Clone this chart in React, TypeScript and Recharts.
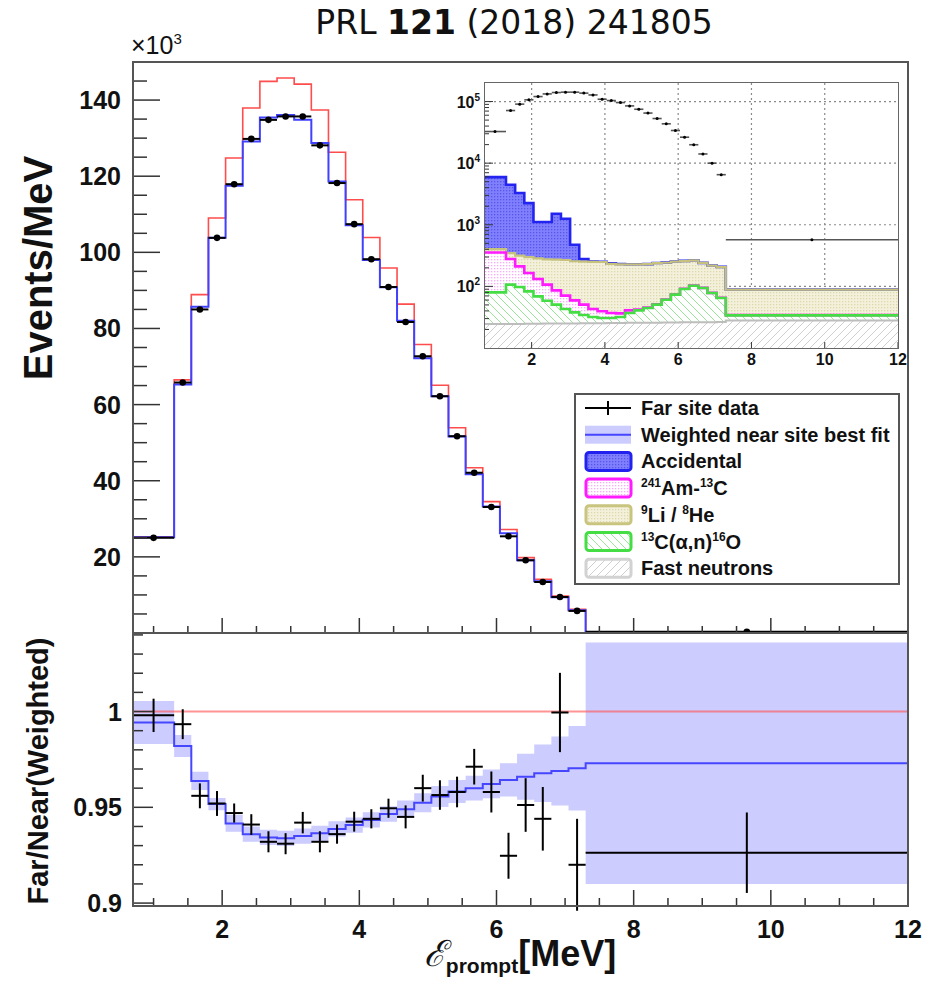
import React from 'react';
import { ComposedChart, Line, Area, Scatter, ErrorBar, XAxis, YAxis, ReferenceLine, CartesianGrid } from 'recharts';

// bin edges of the prompt energy spectrum, MeV
const binEdges = [0.7, 1.3, 1.55, 1.8, 2.05, 2.3, 2.55, 2.8, 3.05, 3.3, 3.55, 3.8, 4.05, 4.3, 4.55, 4.8, 5.05, 5.3, 5.55, 5.8, 6.05, 6.3, 6.55, 6.8, 7.05, 7.3, 12];

// upper panel, x10^3 events/MeV
const farData = [25.0, 65.8, 85.0, 103.8, 117.9, 129.8, 134.8, 135.7, 135.7, 128.1, 118.2, 107.4, 98.2, 90.9, 81.7, 72.7, 62.2, 51.7, 42.1, 33.1, 25.4, 19.1, 13.4, 9.45, 5.8, 0.3];
const nearWeightedFit = [25.15, 65.3, 85.7, 103.8, 117.5, 129.1, 135.4, 136.1, 134.8, 128.7, 118.6, 107.1, 98.0, 90.8, 82.0, 72.2, 62.2, 51.6, 41.7, 33.2, 26.2, 19.1, 13.6, 9.4, 6.0, 0.29];
const noOscillation = [25.3, 66.5, 88.9, 109.0, 124.8, 137.9, 144.9, 145.8, 144.2, 137.4, 126.3, 113.8, 103.9, 95.9, 86.4, 75.8, 65.1, 53.9, 43.4, 34.5, 27.2, 19.8, 14.1, 9.7, 6.2, 0.3];

// lower panel, far / near (weighted)
const ratioData = [0.998, 0.9934, 0.956, 0.952, 0.947, 0.941, 0.932, 0.931, 0.942, 0.932, 0.936, 0.9425, 0.944, 0.9495, 0.945, 0.96, 0.9564, 0.958, 0.9712, 0.958, 0.9247, 0.9512, 0.944, 0.9995, 0.92, 0.9263];
const ratioErr = [0.0087, 0.0078, 0.0065, 0.0065, 0.005, 0.0054, 0.0055, 0.0055, 0.0056, 0.0055, 0.005, 0.0052, 0.005, 0.005, 0.006, 0.007, 0.0077, 0.008, 0.0093, 0.0107, 0.012, 0.014, 0.0166, 0.0207, 0.024, 0.021];
const fitRatio = [0.9943, 0.982, 0.9638, 0.9517, 0.9416, 0.936, 0.9343, 0.9338, 0.935, 0.9364, 0.9387, 0.9407, 0.9434, 0.9465, 0.949, 0.9524, 0.9556, 0.9582, 0.96, 0.9622, 0.9643, 0.966, 0.9678, 0.969, 0.9704, 0.973];
const fitBand = [0.0112, 0.0057, 0.0048, 0.0032, 0.0044, 0.004, 0.004, 0.004, 0.004, 0.004, 0.004, 0.004, 0.004, 0.004, 0.0045, 0.005, 0.0055, 0.006, 0.0065, 0.0075, 0.0087, 0.012, 0.015, 0.018, 0.022, 0.063];

// inset (log scale), events/MeV; background levels are the stacked tops
const insetFar = [32600, 71500, 90800, 106600, 120500, 133000, 140000, 142000, 142000, 137000, 128000, 109000, 103800, 96300, 85000, 75000, 65000, 53000, 43500, 33900, 26400, 19900, 14100, 10000, 6500, 570];
const fastNeutronTop = [24.5, 24.6, 24.6, 24.7, 24.8, 24.9, 25.0, 25.0, 25.1, 25.2, 25.3, 25.3, 25.4, 25.5, 25.6, 25.7, 25.7, 25.8, 25.9, 26.0, 26.1, 26.2, 26.2, 26.3, 26.4, 28.0];
const alphaNTop = [80, 107, 97.7, 83, 68.9, 58.6, 50.5, 43, 37.9, 34.4, 31.9, 30.7, 30.7, 31.9, 37, 40.8, 44.7, 50.5, 60.8, 73.4, 90.8, 102.6, 94.2, 78.2, 64.9, 33.9];
const amcTop = [355, 278, 211, 165, 132, 107, 86, 70.7, 59.3, 50.5, 43, 39.4, 37, 36.5, 40.8, 42, 45.5, 51.2, 61.4, 74, 91.4, 103.2, 94.7, 78.6, 65.3, 34.2];
const liHeTop = [404, 347, 315, 299, 285, 275, 271, 268, 256, 252, 250, 249, 232, 228, 227, 228, 229, 238, 242, 252, 258, 264, 240, 217, 206, 88.5];
const accidentalTop = [5940, 4460, 3270, 2250, 1107, 1107, 1510, 1253, 474, 278, 252, 251, 236, 231, 229, 229, 230, 239, 243, 253, 259, 265, 241, 218, 207, 89];

// ticks
const mainYTicks = [5, 10, 15, 20, 25, 30, 35, 40, 45, 50, 55, 60, 65, 70, 75, 80, 85, 90, 95, 100, 105, 110, 115, 120, 125, 130, 135, 140, 145];
const energyTicks = [1, 1.5, 2, 2.5, 3, 3.5, 4, 4.5, 5, 5.5, 6, 6.5, 7, 7.5, 8, 8.5, 9, 9.5, 10, 10.5, 11, 11.5, 12];
const ratioYTicks = [0.9, 0.91, 0.92, 0.93, 0.94, 0.95, 0.96, 0.97, 0.98, 0.99, 1, 1.01, 1.02, 1.03, 1.04];
const insetYTicks = [20, 30, 40, 50, 60, 70, 80, 90, 100, 200, 300, 400, 500, 600, 700, 800, 900, 1000, 2000, 3000, 4000, 5000, 6000, 7000, 8000, 9000, 10000, 20000, 30000, 40000, 50000, 60000, 70000, 80000, 90000, 100000];
const insetXTicks = [2, 4, 6, 8, 10, 12];
const insetGridX = [2, 4, 6, 8, 10];
const insetGridY = [100, 1000, 10000, 100000];
const insetDecadeLabels: Record<number, string> = { 100: '2', 1000: '3', 10000: '4', 100000: '5' };

const FONT = '"Liberation Sans", Arial, Helvetica, sans-serif';
const AXIS = '#333';
const nBins = binEdges.length - 1;

const mainRows = binEdges.map((x, i) => {
  const b = Math.min(i, nBins - 1);
  return { x, pred: noOscillation[b], fit: nearWeightedFit[b] };
});
const mainPoints = farData.map((y, i) => ({ x: (binEdges[i] + binEdges[i + 1]) / 2, xe: (binEdges[i + 1] - binEdges[i]) / 2, y }));

const ratioRows = binEdges.map((x, i) => {
  const b = Math.min(i, nBins - 1);
  return { x, fit: fitRatio[b], lo: fitRatio[b] - fitBand[b], hi: fitRatio[b] + fitBand[b] };
});
const ratioPoints = ratioData.map((y, i) => ({ x: (binEdges[i] + binEdges[i + 1]) / 2, xe: (binEdges[i + 1] - binEdges[i]) / 2, y, ye: ratioErr[i] }));

const insetRows = binEdges.map((x, i) => {
  const b = Math.min(i, nBins - 1);
  return { x, fn: fastNeutronTop[b], an: alphaNTop[b], amc: amcTop[b], li: liHeTop[b], acc: accidentalTop[b] };
});
const insetPoints = insetFar.map((y, i) => ({ x: (binEdges[i] + binEdges[i + 1]) / 2, xe: (binEdges[i + 1] - binEdges[i]) / 2, y }));

function MainYTick(props: any) {
  const { x, y, payload } = props;
  const major = payload.value % 20 === 0;
  return (
    <g>
      <line x1={x} x2={x + (major ? 27 : 14)} y1={y} y2={y} stroke={AXIS} strokeWidth={1.5} />
      {major && (
        <text x={x - 12} y={y} dy={9} textAnchor="end" fontFamily={FONT} fontWeight="bold" fontSize={25} fill="#111">
          {payload.value}
        </text>
      )}
    </g>
  );
}

function RatioYTick(props: any) {
  const { x, y, payload } = props;
  const v = payload.value;
  const major = Math.round(v * 100) % 5 === 0;
  return (
    <g>
      <line x1={x} x2={x + (major ? 20 : 10)} y1={y} y2={y} stroke={AXIS} strokeWidth={1.5} />
      {major && (
        <text x={x - 11} y={y} dy={9} textAnchor="end" fontFamily={FONT} fontWeight="bold" fontSize={25} fill="#111">
          {v === 1 ? '1' : String(v)}
        </text>
      )}
    </g>
  );
}

function EnergyTick(props: any) {
  const { x, y, payload, labels } = props;
  const v = payload.value;
  const major = v % 2 === 0;
  return (
    <g>
      <line x1={x} x2={x} y1={y} y2={y - (major ? 15 : 7)} stroke={AXIS} strokeWidth={1.5} />
      {labels && major && (
        <text x={x} y={y + 33} textAnchor="middle" fontFamily={FONT} fontWeight="bold" fontSize={25} fill="#111">
          {v}
        </text>
      )}
    </g>
  );
}

function InsetYTick(props: any) {
  const { x, y, payload } = props;
  const exp = insetDecadeLabels[payload.value];
  return (
    <g>
      <line x1={x} x2={x + (exp ? 9 : 5)} y1={y} y2={y} stroke={AXIS} strokeWidth={1} />
      {exp && (
        <text x={x - 4} y={y} dy={6} textAnchor="end" fontFamily={FONT} fontWeight="bold" fontSize={16} fill="#111">
          10<tspan dy={-7} fontSize={10}>{exp}</tspan>
        </text>
      )}
    </g>
  );
}

function InsetXTick(props: any) {
  const { x, y, payload } = props;
  return (
    <g>
      <line x1={x} x2={x} y1={y} y2={y - 6} stroke={AXIS} strokeWidth={1} />
      <text x={x} y={y + 17} textAnchor="middle" fontFamily={FONT} fontWeight="bold" fontSize={16} fill="#111">
        {payload.value}
      </text>
    </g>
  );
}

const noShape = () => <g />;

function Patterns({ p }: { p: string }) {
  return (
    <defs>
      <pattern id={p + 'acc'} width="3" height="3" patternUnits="userSpaceOnUse">
        <rect width="3" height="3" fill="#8080ff" />
        <rect width="1.3" height="1.3" fill="#5656e8" />
      </pattern>
      <pattern id={p + 'amc'} width="3" height="3" patternUnits="userSpaceOnUse">
        <rect width="3" height="3" fill="#fff" />
        <rect width="1.3" height="1.3" fill="#ffa6ff" />
      </pattern>
      <pattern id={p + 'li'} width="3" height="3" patternUnits="userSpaceOnUse">
        <rect width="3" height="3" fill="#f3f1dc" />
        <rect width="1.3" height="1.3" fill="#dcd8aa" />
      </pattern>
      <pattern id={p + 'an'} width="8" height="8" patternUnits="userSpaceOnUse">
        <rect width="8" height="8" fill="#fff" />
        <path d="M0,0 L8,8 M-2,6 L2,10 M6,-2 L10,2" stroke="#9be69b" strokeWidth="1" />
      </pattern>
      <pattern id={p + 'fn'} width="8" height="8" patternUnits="userSpaceOnUse">
        <rect width="8" height="8" fill="#fff" />
        <path d="M0,8 L8,0 M-2,2 L2,-2 M6,10 L10,6" stroke="#cfcfcf" strokeWidth="1" />
      </pattern>
    </defs>
  );
}

function MainPanel() {
  return (
    <div style={{ position: 'absolute', left: 0, top: 0 }}>
      <ComposedChart width={940} height={660} data={mainRows} margin={{ top: 62, right: 32, bottom: 7, left: 0 }}>
        <XAxis dataKey="x" type="number" domain={[0.7, 12]} ticks={energyTicks} interval={0} tick={(p: any) => <EnergyTick {...p} labels={false} />} tickLine={false} axisLine={false} tickSize={0} tickMargin={0} height={20} allowDataOverflow />
        <YAxis type="number" domain={[0, 150]} ticks={mainYTicks} interval={0} tick={(p: any) => <MainYTick {...p} />} tickLine={false} axisLine={false} tickSize={0} tickMargin={0} width={133} allowDataOverflow />
        <Line type="stepAfter" dataKey="pred" stroke="#ff4c4c" strokeWidth={1.6} dot={false} activeDot={false} isAnimationActive={false} />
        <Line type="stepAfter" dataKey="fit" stroke="#4040ff" strokeWidth={2} dot={false} activeDot={false} isAnimationActive={false} />
        <Scatter data={mainPoints} dataKey="y" shape={(p: any) => <circle cx={p.cx} cy={p.cy} r={3.3} fill="#000" />} isAnimationActive={false}>
          <ErrorBar dataKey="xe" direction="x" width={0} stroke="#000" strokeWidth={2} />
        </Scatter>
      </ComposedChart>
    </div>
  );
}

function RatioPanel() {
  return (
    <div style={{ position: 'absolute', left: 0, top: 600 }}>
      <ComposedChart width={940} height={384} data={ratioRows} margin={{ top: 33, right: 32, bottom: 39, left: 0 }}>
        <XAxis dataKey="x" type="number" domain={[0.7, 12]} ticks={energyTicks} interval={0} tick={(p: any) => <EnergyTick {...p} labels />} tickLine={false} axisLine={false} tickSize={0} tickMargin={0} height={40} allowDataOverflow />
        <YAxis type="number" domain={[0.899, 1.041]} ticks={ratioYTicks} interval={0} tick={(p: any) => <RatioYTick {...p} />} tickLine={false} axisLine={false} tickSize={0} tickMargin={0} width={133} allowDataOverflow />
        <Area type="stepAfter" dataKey={(r: any) => [r.lo, r.hi]} fill="#ccccff" fillOpacity={1} stroke="none" dot={false} activeDot={false} isAnimationActive={false} />
        <ReferenceLine y={1} stroke="#ff5a5a" strokeOpacity={0.65} strokeWidth={2} />
        <Line type="stepAfter" dataKey="fit" stroke="#4646ff" strokeWidth={2} dot={false} activeDot={false} isAnimationActive={false} />
        <Scatter data={ratioPoints} dataKey="y" shape={noShape} isAnimationActive={false}>
          <ErrorBar dataKey="xe" direction="x" width={0} stroke="#000" strokeWidth={2} />
          <ErrorBar dataKey="ye" direction="y" width={0} stroke="#000" strokeWidth={2} />
        </Scatter>
      </ComposedChart>
    </div>
  );
}

function InsetPanel() {
  return (
    <div style={{ position: 'absolute', left: 440, top: 70 }}>
      <ComposedChart width={470} height={310} data={insetRows} margin={{ top: 13, right: 12, bottom: 7, left: 0 }}>
        <Patterns p="in-" />
        <CartesianGrid horizontalValues={insetGridY} verticalValues={insetGridX} stroke="#8a8a8a" strokeDasharray="2 3" strokeWidth={1.2} />
        <XAxis dataKey="x" type="number" domain={[0.7, 12]} ticks={insetXTicks} interval={0} tick={(p: any) => <InsetXTick {...p} />} tickLine={false} axisLine={false} tickSize={0} tickMargin={0} height={25} allowDataOverflow />
        <YAxis type="number" scale="log" domain={[10, 200000]} ticks={insetYTicks} interval={0} tick={(p: any) => <InsetYTick {...p} />} tickLine={false} axisLine={false} tickSize={0} tickMargin={0} width={44} allowDataOverflow />
        <Area type="stepAfter" dataKey={(r: any) => [10, r.fn]} fill="url(#in-fn)" fillOpacity={1} stroke="none" isAnimationActive={false} />
        <Area type="stepAfter" dataKey={(r: any) => [r.fn, r.an]} fill="url(#in-an)" fillOpacity={1} stroke="none" isAnimationActive={false} />
        <Area type="stepAfter" dataKey={(r: any) => [r.an, r.amc]} fill="url(#in-amc)" fillOpacity={1} stroke="none" isAnimationActive={false} />
        <Area type="stepAfter" dataKey={(r: any) => [r.amc, r.li]} fill="url(#in-li)" fillOpacity={1} stroke="none" isAnimationActive={false} />
        <Area type="stepAfter" dataKey={(r: any) => [r.li, r.acc]} fill="url(#in-acc)" fillOpacity={1} stroke="none" isAnimationActive={false} />
        <Line type="stepAfter" dataKey="acc" stroke="#2424f0" strokeWidth={2.6} dot={false} activeDot={false} isAnimationActive={false} />
        <Line type="stepAfter" dataKey="li" stroke="#c6c27c" strokeWidth={2.2} dot={false} activeDot={false} isAnimationActive={false} />
        <Line type="stepAfter" dataKey="amc" stroke="#ff1aff" strokeWidth={2.6} dot={false} activeDot={false} isAnimationActive={false} />
        <Line type="stepAfter" dataKey="an" stroke="#44dd44" strokeWidth={2.6} dot={false} activeDot={false} isAnimationActive={false} />
        <Line type="stepAfter" dataKey="fn" stroke="#bdbdbd" strokeWidth={2} dot={false} activeDot={false} isAnimationActive={false} />
        <Scatter data={insetPoints} dataKey="y" shape={(p: any) => <circle cx={p.cx} cy={p.cy} r={1.5} fill="#000" />} isAnimationActive={false}>
          <ErrorBar dataKey="xe" direction="x" width={0} stroke="#555" strokeWidth={1.6} />
        </Scatter>
      </ComposedChart>
    </div>
  );
}

const legendRows = [
  { key: 'data', label: ['Far site data'] },
  { key: 'fit', label: ['Weighted near site best fit'] },
  { key: 'acc', label: ['Accidental'] },
  { key: 'amc', label: ['^241', 'Am-', '^13', 'C'] },
  { key: 'li', label: ['^9', 'Li / ', '^8', 'He'] },
  { key: 'an', label: ['^13', 'C(\u03b1,n)', '^16', 'O'] },
  { key: 'fn', label: ['Fast neutrons'] },
];
const legendStroke: Record<string, string> = { acc: '#2222ee', amc: '#ff1aff', li: '#c9c47e', an: '#44dd44', fn: '#d2d2d2' };

function LegendBox() {
  return (
    <svg width={328} height={194} style={{ position: 'absolute', left: 573, top: 392 }}>
      <Patterns p="lg-" />
      <rect x={2} y={2} width={324} height={190} fill="#fff" stroke="#555" strokeWidth={2} />
      {legendRows.map((row, i) => {
        const cy = 16 + i * 26.7;
        let sym;
        if (row.key === 'data') {
          sym = (
            <g>
              <line x1={12} x2={58} y1={cy} y2={cy} stroke="#000" strokeWidth={2} />
              <line x1={35} x2={35} y1={cy - 7} y2={cy + 7} stroke="#000" strokeWidth={2} />
            </g>
          );
        } else if (row.key === 'fit') {
          sym = (
            <g>
              <rect x={12} y={cy - 9} width={46} height={18} fill="#ccccff" />
              <line x1={12} x2={58} y1={cy} y2={cy} stroke="#4646ff" strokeWidth={2} />
            </g>
          );
        } else {
          sym = <rect x={13} y={cy - 9} width={45} height={18} rx={3} fill={`url(#lg-${row.key})`} stroke={legendStroke[row.key]} strokeWidth={3} />;
        }
        return (
          <g key={row.key}>
            {sym}
            <text x={68} y={cy + 7} fontFamily={FONT} fontWeight="bold" fontSize={20} fill="#111">
              {row.label.map((part, j) =>
                part.startsWith('^') ? (
                  <tspan key={j} dy={-8} fontSize={12}>{part.slice(1)}</tspan>
                ) : (
                  <tspan key={j} dy={j > 0 && row.label[j - 1].startsWith('^') ? 8 : 0}>{part}</tspan>
                )
              )}
            </text>
          </g>
        );
      })}
    </svg>
  );
}

export default function App() {
  const frame = { position: 'absolute' as const, border: '2px solid #555', boxSizing: 'border-box' as const, pointerEvents: 'none' as const };
  return (
    <div style={{ position: 'absolute', left: 0, top: 0, width: 940, height: 984, background: '#fff', fontFamily: FONT, color: '#111', overflow: 'hidden' }}>
      <div style={{ position: 'absolute', left: 514, top: 3, transform: 'translateX(-50%)', whiteSpace: 'nowrap', fontFamily: '"DejaVu Sans", sans-serif', fontSize: 33, lineHeight: '40px' }}>
        PRL <b>121</b> (2018) 241805
      </div>
      <div style={{ position: 'absolute', left: 131, top: 30, fontSize: 25, lineHeight: '30px', whiteSpace: 'nowrap' }}>
        {'\u00d7'}10<span style={{ fontSize: 15, position: 'relative', top: -10 }}>3</span>
      </div>
      <MainPanel />
      <RatioPanel />
      <div style={{ ...frame, left: 132, top: 61, width: 777, height: 573 }} />
      <div style={{ ...frame, left: 132, top: 632, width: 777, height: 275 }} />
      <InsetPanel />
      <div style={{ ...frame, border: '1.5px solid #666', left: 484, top: 82, width: 415, height: 267 }} />
      <LegendBox />
      <div style={{ position: 'absolute', left: 38, top: 268, transform: 'translate(-50%, -50%) rotate(-90deg)', whiteSpace: 'nowrap', fontSize: 40, fontWeight: 'bold' }}>
        Events/MeV
      </div>
      <div style={{ position: 'absolute', left: 38, top: 771, transform: 'translate(-50%, -50%) rotate(-90deg)', whiteSpace: 'nowrap', fontSize: 29, fontWeight: 'bold' }}>
        Far/Near(Weighted)
      </div>
      <div style={{ position: 'absolute', left: 520, top: 934, transform: 'translateX(-50%)', whiteSpace: 'nowrap', fontSize: 36, fontWeight: 'bold', lineHeight: '40px' }}>
        <span style={{ fontFamily: '"DejaVu Serif", serif', fontStyle: 'italic', fontWeight: 'normal', fontSize: 36 }}>{'\u2130'}</span>
        <span style={{ fontSize: 21, position: 'relative', top: 7 }}>prompt</span>[MeV]
      </div>
    </div>
  );
}
